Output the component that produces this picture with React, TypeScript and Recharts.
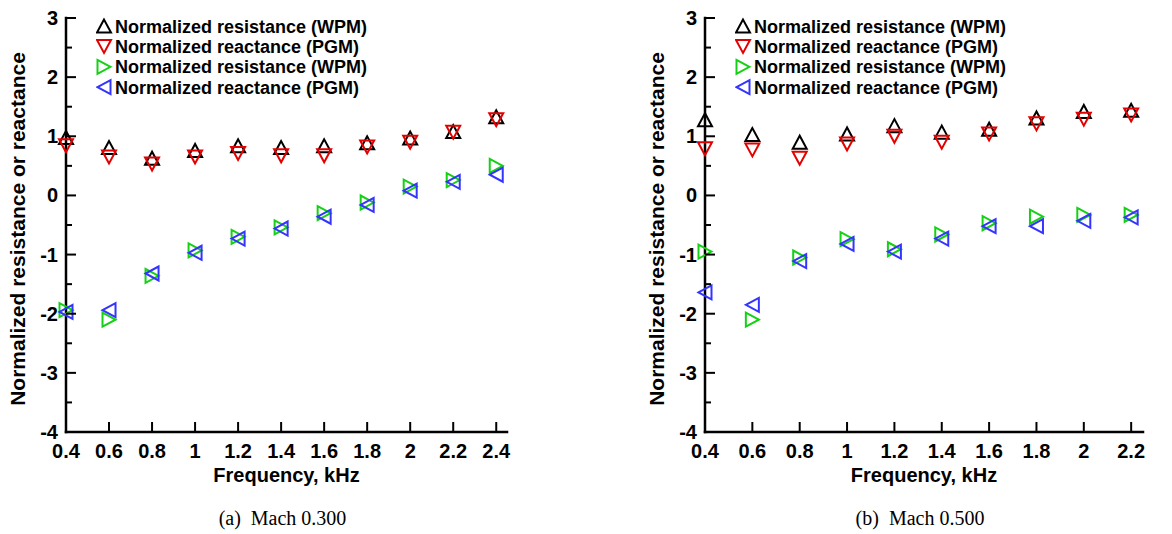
import { ScatterChart, Scatter, XAxis, YAxis, Legend } from 'recharts';

const FONT = '"Liberation Sans", Arial, Helvetica, sans-serif';
const SERIF = '"Liberation Serif", "Times New Roman", serif';

// frequencies, kHz
const freqA = [0.4, 0.6, 0.8, 1.0, 1.2, 1.4, 1.6, 1.8, 2.0, 2.2, 2.4];
const freqB = [0.4, 0.6, 0.8, 1.0, 1.2, 1.4, 1.6, 1.8, 2.0, 2.2];

// (a) Mach 0.300
const resWpmA = [0.98, 0.81, 0.63, 0.76, 0.84, 0.81, 0.84, 0.89, 0.97, 1.08, 1.33];
const reaPgmA = [0.84, 0.65, 0.53, 0.65, 0.71, 0.67, 0.67, 0.82, 0.9, 1.07, 1.28];
const resWpm2A = [-1.94, -2.1, -1.36, -0.93, -0.7, -0.54, -0.3, -0.12, 0.15, 0.26, 0.5];
const reaPgm2A = [-1.97, -1.94, -1.32, -0.97, -0.73, -0.56, -0.36, -0.16, 0.08, 0.23, 0.35];

// (b) Mach 0.500
const resWpmB = [1.28, 1.03, 0.9, 1.04, 1.18, 1.07, 1.12, 1.31, 1.42, 1.44];
const reaPgmB = [0.79, 0.77, 0.63, 0.87, 1.0, 0.9, 1.04, 1.21, 1.29, 1.36];
const resWpm2B = [-0.95, -2.1, -1.05, -0.74, -0.91, -0.66, -0.47, -0.36, -0.33, -0.33];
const reaPgm2B = [-1.64, -1.85, -1.11, -0.82, -0.95, -0.73, -0.52, -0.52, -0.43, -0.37];

const seriesNames = [
  'Normalized resistance (WPM)',
  'Normalized reactance (PGM)',
  'Normalized resistance (WPM)',
  'Normalized reactance (PGM)',
];

const xTicksA = [0.4, 0.6, 0.8, 1, 1.2, 1.4, 1.6, 1.8, 2, 2.2, 2.4];
const xTicksB = [0.4, 0.6, 0.8, 1, 1.2, 1.4, 1.6, 1.8, 2, 2.2];
const yTicks = [-4, -3.5, -3, -2.5, -2, -1.5, -1, -0.5, 0, 0.5, 1, 1.5, 2, 2.5, 3];

type Kind = 'up' | 'down' | 'right' | 'left';
const markerStyle: { color: string; kind: Kind }[] = [
  { color: '#000000', kind: 'up' },
  { color: '#e30000', kind: 'down' },
  { color: '#16d016', kind: 'right' },
  { color: '#3434ff', kind: 'left' },
];

function Marker({ cx, cy, kind, color }: { cx: number; cy: number; kind: Kind; color: string }) {
  const a = 7;
  const b = 6.5;
  let pts = '';
  if (kind === 'up') pts = `${cx},${cy - b} ${cx - a},${cy + b} ${cx + a},${cy + b}`;
  if (kind === 'down') pts = `${cx},${cy + b} ${cx - a},${cy - b} ${cx + a},${cy - b}`;
  if (kind === 'right') pts = `${cx + b},${cy} ${cx - b},${cy - a} ${cx - b},${cy + a}`;
  if (kind === 'left') pts = `${cx - b},${cy} ${cx + b},${cy - a} ${cx + b},${cy + a}`;
  return <polygon points={pts} fill="none" stroke={color} strokeWidth={2} strokeLinejoin="miter" />;
}

const YTick = (p: any) => {
  const v = p.payload.value;
  const major = Number.isInteger(v);
  return (
    <g>
      <line x1={p.x} x2={p.x + (major ? 10 : 6)} y1={p.y} y2={p.y} stroke="#000" strokeWidth={2} />
      {major && (
        <text x={p.x - 8} y={p.y + 7} textAnchor="end" fontFamily={FONT} fontWeight="bold" fontSize={20} fill="#000">
          {String(v)}
        </text>
      )}
    </g>
  );
};

const XTick = (p: any) => (
  <g>
    <line x1={p.x} x2={p.x} y1={p.y} y2={p.y - 10} stroke="#000" strokeWidth={2} />
    <text x={p.x} y={p.y + 26} textAnchor="middle" fontFamily={FONT} fontWeight="bold" fontSize={20} fill="#000">
      {String(p.payload.value)}
    </text>
  </g>
);

const XTitle = (p: any) => {
  const vb = p.viewBox;
  return (
    <text x={vb.x + vb.width / 2} y={vb.y + 50} textAnchor="middle" fontFamily={FONT} fontWeight="bold" fontSize={20} fill="#000">
      Frequency, kHz
    </text>
  );
};

const YTitle = (p: any) => {
  const vb = p.viewBox;
  const x = vb.x + vb.width - 49;
  const y = vb.y + vb.height / 2 + 4;
  return (
    <text
      x={x}
      y={y}
      transform={`rotate(-90 ${x} ${y})`}
      textAnchor="middle"
      dominantBaseline="central"
      fontFamily={FONT}
      fontWeight="bold"
      fontSize={21}
      fill="#000"
    >
      Normalized resistance or reactance
    </text>
  );
};

const LegendBox = () => (
  <svg width={310} height={86}>
    {seriesNames.map((name, i) => {
      const cy = 10 + i * 20.4;
      return (
        <g key={i}>
          <Marker cx={8} cy={cy} kind={markerStyle[i].kind} color={markerStyle[i].color} />
          <text x={19} y={cy + 6.5} fontFamily={FONT} fontWeight="bold" fontSize={18} fill="#000">
            {name}
          </text>
        </g>
      );
    })}
  </svg>
);

type PanelProps = {
  freq: number[];
  series: number[][];
  xTicks: number[];
  xMax: number;
  caption: string;
  left: number;
  width: number;
  marginLeft: number;
  marginRight: number;
};

function Panel({ freq, series, xTicks, xMax, caption, left, width, marginLeft, marginRight }: PanelProps) {
  const data = series.map((vals) => freq.map((f, i) => ({ f, v: vals[i] })));
  return (
    <div style={{ position: 'absolute', left, top: 0, width, height: 534 }}>
      <ScatterChart width={width} height={500} margin={{ top: 18, right: marginRight, bottom: 0, left: 0 }}>
        <XAxis
          type="number"
          dataKey="f"
          domain={[0.4, xMax]}
          ticks={xTicks}
          interval={0}
          height={68}
          tickSize={0}
          tickMargin={0}
          tickLine={false}
          axisLine={{ stroke: '#000', strokeWidth: 2.5, strokeLinecap: 'square' }}
          tick={XTick}
          label={{ content: XTitle }}
        />
        <YAxis
          type="number"
          dataKey="v"
          domain={[-4, 3]}
          ticks={yTicks}
          interval={0}
          width={marginLeft}
          tickSize={0}
          tickMargin={0}
          tickLine={false}
          axisLine={{ stroke: '#000', strokeWidth: 2.5, strokeLinecap: 'square' }}
          tick={YTick}
          label={{ content: YTitle }}
        />
        <Legend
          layout="vertical"
          align="center"
          verticalAlign="middle"
          content={LegendBox}
          wrapperStyle={{ left: marginLeft + 30, top: 16, width: 310, height: 86 }}
        />
        {data.map((d, i) => (
          <Scatter
            key={i}
            name={seriesNames[i]}
            data={d}
            isAnimationActive={false}
            shape={(p: any) => <Marker cx={p.cx} cy={p.cy} kind={markerStyle[i].kind} color={markerStyle[i].color} />}
          />
        ))}
      </ScatterChart>
      <div
        style={{
          position: 'absolute',
          left: marginLeft - 4,
          width: width - marginLeft - marginRight,
          top: 506,
          lineHeight: '24px',
          textAlign: 'center',
          fontFamily: SERIF,
          fontSize: 20,
          whiteSpace: 'pre',
          color: '#000',
        }}
      >
        {caption}
      </div>
    </div>
  );
}

export default function App() {
  return (
    <div style={{ position: 'absolute', left: 0, top: 0, width: 1172, height: 534, background: '#fff' }}>
      <Panel
        freq={freqA}
        series={[resWpmA, reaPgmA, resWpm2A, reaPgm2A]}
        xTicks={xTicksA}
        xMax={2.45}
        caption="(a)  Mach 0.300"
        left={0}
        width={540}
        marginLeft={66}
        marginRight={33}
      />
      <Panel
        freq={freqB}
        series={[resWpmB, reaPgmB, resWpm2B, reaPgm2B]}
        xTicks={xTicksB}
        xMax={2.25}
        caption="(b)  Mach 0.500"
        left={630}
        width={542}
        marginLeft={75}
        marginRight={29}
      />
    </div>
  );
}
